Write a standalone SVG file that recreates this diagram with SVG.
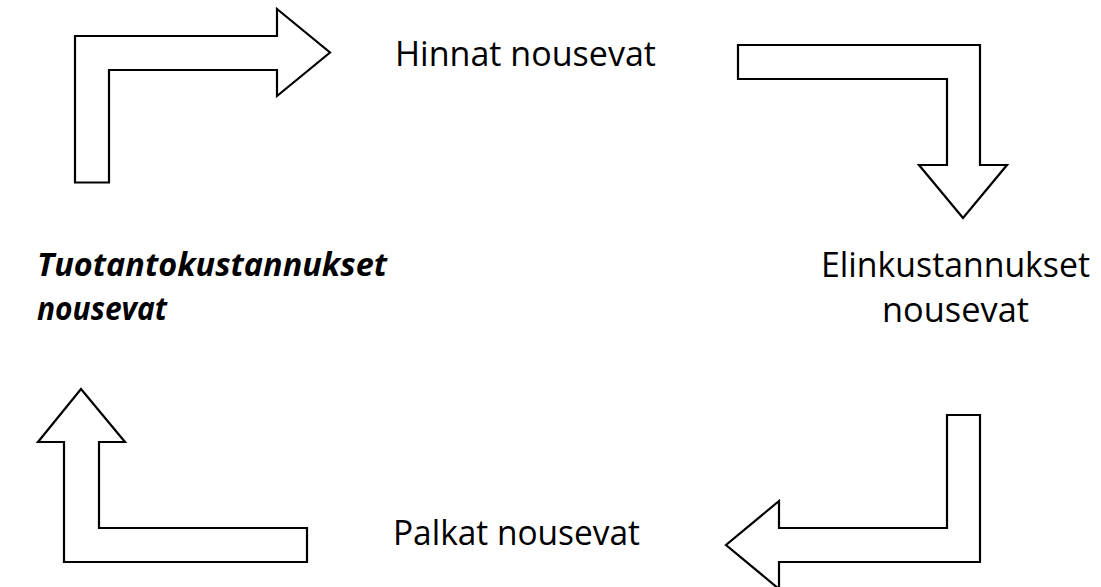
<svg xmlns="http://www.w3.org/2000/svg" width="1101" height="587" viewBox="0 0 1101 587">
<style>
.arrow{fill:#fff;stroke:#000;stroke-width:2.2;stroke-linejoin:miter}
.t{font-family:"Open Sans","Noto Sans",sans-serif;font-size:35px;fill:#000}
.b{font-weight:bold;font-style:italic;font-size:33px}
</style>
<rect width="1101" height="587" fill="#fff"/>
<g id="connectors">
<path class="arrow" d="M75,182.5 L75,36 L277,36 L277,9 L330,52.5 L277,96 L277,70 L109,70 L109,182.5 Z"/>
<path class="arrow" d="M738,45 L980,45 L980,165 L1007,165 L963,218 L919,165 L947,165 L947,79 L738,79 Z"/>
<path class="arrow" d="M980,415 L980,562 L779,562 L779,589 L726,545 L779,501 L779,528 L947,528 L947,415 Z"/>
<path class="arrow" d="M307,528 L99,528 L99,442 L125,442 L81,389 L38,442 L64,442 L64,562 L307,562 Z"/>
</g>
<g id="n1"><text class="t" x="395" y="66" textLength="261" lengthAdjust="spacingAndGlyphs">Hinnat nousevat</text></g>
<g id="n2"><text class="t" x="821" y="277" textLength="269" lengthAdjust="spacingAndGlyphs">Elinkustannukset</text><text class="t" x="882" y="322" textLength="147" lengthAdjust="spacingAndGlyphs">nousevat</text></g>
<g id="n3"><text class="t" x="393" y="545" textLength="247" lengthAdjust="spacingAndGlyphs">Palkat nousevat</text></g>
<g id="n4"><text class="t b" x="37" y="276" textLength="350" lengthAdjust="spacingAndGlyphs">Tuotantokustannukset</text><text class="t b" x="37" y="320" textLength="130" lengthAdjust="spacingAndGlyphs">nousevat</text></g>
</svg>
